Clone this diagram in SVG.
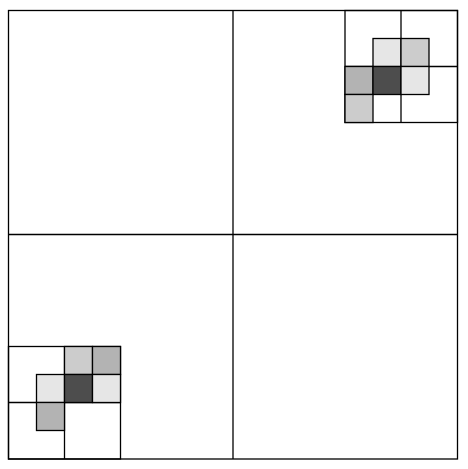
<svg xmlns="http://www.w3.org/2000/svg" width="468" height="469" viewBox="0 0 468 469">
<style>
.l{fill:none;stroke:#000;stroke-width:1.3}
.c{stroke:#000;stroke-width:1.3}
</style>
<rect width="468" height="469" fill="#fff"/>
<g id="quadrants">
<rect class="l" x="8.5" y="10.5" width="449" height="448.5"/>
<line class="l" x1="233" y1="10.5" x2="233" y2="459"/>
<line class="l" x1="8.5" y1="234.5" x2="457.5" y2="234.5"/>
</g>
<g id="top-right">
<rect class="l" x="345" y="10.5" width="112.5" height="112"/>
<line class="l" x1="401" y1="10.5" x2="401" y2="122.5"/>
<line class="l" x1="345" y1="66.5" x2="457.5" y2="66.5"/>
<rect class="c" x="373" y="38.5" width="28" height="28" fill="#e6e6e6"/>
<rect class="c" x="401" y="38.5" width="28" height="28" fill="#cccccc"/>
<rect class="c" x="345" y="66.5" width="28" height="28" fill="#b3b3b3"/>
<rect class="c" x="373" y="66.5" width="28" height="28" fill="#4d4d4d"/>
<rect class="c" x="401" y="66.5" width="28" height="28" fill="#e6e6e6"/>
<rect class="c" x="345" y="94.5" width="28" height="28" fill="#cccccc"/>
</g>
<g id="bottom-left">
<rect class="l" x="8.5" y="346.5" width="112" height="112.5"/>
<line class="l" x1="64.5" y1="346.5" x2="64.5" y2="459"/>
<line class="l" x1="8.5" y1="402.5" x2="120.5" y2="402.5"/>
<rect class="c" x="64.5" y="346.5" width="28" height="28" fill="#cccccc"/>
<rect class="c" x="92.5" y="346.5" width="28" height="28" fill="#b3b3b3"/>
<rect class="c" x="36.5" y="374.5" width="28" height="28" fill="#e6e6e6"/>
<rect class="c" x="64.5" y="374.5" width="28" height="28" fill="#4d4d4d"/>
<rect class="c" x="92.5" y="374.5" width="28" height="28" fill="#e6e6e6"/>
<rect class="c" x="36.5" y="402.5" width="28" height="28" fill="#b3b3b3"/>
</g>
</svg>
